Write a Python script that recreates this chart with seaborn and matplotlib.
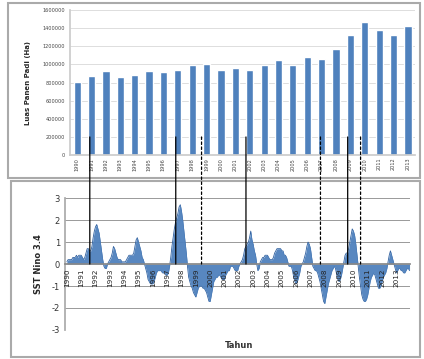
import numpy as np
import pandas as pd
import matplotlib
matplotlib.use("Agg")
import matplotlib.pyplot as plt
import seaborn as sns
from matplotlib.patches import ConnectionPatch, Rectangle
from matplotlib.transforms import blended_transform_factory

# ---- data ----
tahun = list(range(1990, 2014))
luas_panen = [810000, 870000, 930000, 860000, 880000, 930000, 920000, 940000,
              990000, 1010000, 940000, 960000, 940000, 990000, 1050000, 990000,
              1080000, 1060000, 1170000, 1330000, 1470000, 1380000, 1330000, 1420000]

# anomali SST Nino 3.4 bulanan (Jan..Des) per tahun
nino34 = {
    1990: [0.1, 0.2, 0.2, 0.2, 0.2, 0.3, 0.3, 0.3, 0.4, 0.3, 0.4, 0.4],
    1991: [0.4, 0.3, 0.2, 0.3, 0.5, 0.7, 0.7, 0.6, 0.6, 0.8, 1.2, 1.5],
    1992: [1.7, 1.8, 1.6, 1.4, 1.0, 0.6, 0.2, -0.1, -0.2, -0.2, 0.0, 0.1],
    1993: [0.2, 0.3, 0.5, 0.8, 0.7, 0.5, 0.3, 0.2, 0.2, 0.2, 0.1, 0.1],
    1994: [0.1, 0.1, 0.2, 0.3, 0.4, 0.4, 0.4, 0.4, 0.5, 0.8, 1.1, 1.2],
    1995: [1.0, 0.8, 0.6, 0.3, 0.2, 0.0, -0.2, -0.4, -0.7, -0.8, -0.9, -0.9],
    1996: [-0.9, -0.8, -0.6, -0.4, -0.3, -0.3, -0.3, -0.3, -0.4, -0.4, -0.4, -0.5],
    1997: [-0.5, -0.4, -0.1, 0.3, 0.8, 1.2, 1.6, 1.9, 2.1, 2.3, 2.6, 2.7],
    1998: [2.4, 2.0, 1.5, 1.0, 0.5, -0.1, -0.6, -0.8, -1.0, -1.1, -1.3, -1.4],
    1999: [-1.5, -1.3, -1.1, -1.0, -1.0, -1.0, -1.1, -1.1, -1.2, -1.3, -1.5, -1.7],
    2000: [-1.7, -1.4, -1.1, -0.8, -0.7, -0.6, -0.6, -0.5, -0.5, -0.6, -0.7, -0.7],
    2001: [-0.7, -0.5, -0.4, -0.3, -0.3, -0.1, -0.1, -0.1, -0.2, -0.3, -0.3, -0.3],
    2002: [-0.1, 0.0, 0.1, 0.2, 0.4, 0.7, 0.8, 0.9, 1.0, 1.2, 1.5, 1.1],
    2003: [0.9, 0.6, 0.4, 0.0, -0.3, -0.2, 0.1, 0.2, 0.3, 0.3, 0.4, 0.4],
    2004: [0.4, 0.3, 0.2, 0.2, 0.2, 0.3, 0.5, 0.6, 0.7, 0.7, 0.7, 0.7],
    2005: [0.6, 0.6, 0.4, 0.4, 0.3, 0.1, -0.1, -0.1, -0.1, -0.3, -0.6, -0.8],
    2006: [-0.9, -0.8, -0.6, -0.4, -0.1, 0.0, 0.1, 0.3, 0.5, 0.8, 1.0, 0.9],
    2007: [0.7, 0.3, -0.1, -0.2, -0.3, -0.3, -0.4, -0.6, -0.8, -1.1, -1.4, -1.7],
    2008: [-1.8, -1.5, -1.2, -0.9, -0.7, -0.5, -0.3, -0.2, -0.1, -0.2, -0.5, -0.7],
    2009: [-0.8, -0.7, -0.5, -0.2, 0.1, 0.4, 0.5, 0.5, 0.7, 1.0, 1.3, 1.6],
    2010: [1.5, 1.3, 0.9, 0.4, -0.1, -0.6, -1.0, -1.4, -1.6, -1.7, -1.7, -1.6],
    2011: [-1.4, -1.1, -0.8, -0.6, -0.5, -0.4, -0.5, -0.7, -0.9, -1.1, -1.1, -1.0],
    2012: [-0.8, -0.6, -0.5, -0.4, -0.2, 0.1, 0.4, 0.6, 0.4, 0.2, 0.0, -0.2],
    2013: [-0.4, -0.3, -0.2, -0.2, -0.3, -0.3, -0.4, -0.4, -0.3, -0.2, -0.2, -0.3],
}

# garis kejadian (waktu dalam tahun desimal)
el_nino = [1991.6, 1997.6, 2002.5, 2009.6]
la_nina = [1999.4, 2007.7, 2010.5]

# ---- dataframe ----
df_padi = pd.DataFrame({"Tahun": [str(t) for t in tahun], "Luas": luas_panen})
rows = []
for th, vals in nino34.items():
    for m, v in enumerate(vals):
        rows.append((th + m / 12.0, v))
df_sst = pd.DataFrame(rows, columns=["t", "sst"])

sns.set_theme(style="white")
plt.rcParams["font.family"] = ["DejaVu Sans"]

fig = plt.figure(figsize=(4.24, 3.59), dpi=100)

# bingkai chart ala Excel
for rect in [(0.02, 0.505, 0.97, 0.487), (0.025, 0.005, 0.965, 0.49)]:
    fig.patches.append(Rectangle(rect[:2], rect[2], rect[3], transform=fig.transFigure,
                                 fill=False, edgecolor="#aaaaaa", linewidth=1.5, zorder=0))

# ---- panel atas: luas panen ----
ax1 = fig.add_axes([0.165, 0.568, 0.814, 0.404])
sns.barplot(data=df_padi, x="Tahun", y="Luas", color="#4f81bd", width=0.5,
            saturation=1, ax=ax1)
ax1.set_ylim(0, 1600000)
ax1.set_yticks(range(0, 1600001, 200000))
ax1.set_yticklabels([str(v) for v in range(0, 1600001, 200000)], fontsize=3.6, color="#444444")
ax1.tick_params(axis="x", labelrotation=90, labelsize=3.6, labelcolor="#444444", pad=2)
ax1.tick_params(length=0)
ax1.yaxis.grid(True, color="#d8d8d8", linewidth=0.6)
ax1.set_axisbelow(True)
for s in ["top", "right"]:
    ax1.spines[s].set_visible(False)
ax1.spines["left"].set_color("#cccccc")
ax1.spines["bottom"].set_color("#cccccc")
ax1.set_xlabel("")
ax1.set_ylabel("Luas Panen Padi (Ha)", fontsize=5, fontweight="bold", labelpad=8)

# ---- panel bawah: SST Nino 3.4 ----
ax2 = fig.add_axes([0.153, 0.081, 0.814, 0.367])
yt = list(range(-3, 4))
for v in yt:
    if v != 0:
        ax2.axhline(v, color="#999999", linewidth=0.7, zorder=0)
sns.lineplot(data=df_sst, x="t", y="sst", color="#2f5f9e", linewidth=0.6, ax=ax2, zorder=1)
ax2.fill_between(df_sst["t"], df_sst["sst"], 0, color="#4f81bd", alpha=0.95,
                 linewidth=0, zorder=1)
# sumbu x memotong di nol (atur dulu, sebelum label tick)
ax2.spines["bottom"].set_position(("data", 0))
ax2.spines["bottom"].set_color("#888888")
ax2.spines["left"].set_color("#aaaaaa")
for s in ["top", "right"]:
    ax2.spines[s].set_visible(False)
ax2.set_xlim(1989.86, 2013.95)
ax2.set_ylim(-3, 3)
ax2.set_yticks(yt)
ax2.set_yticklabels([str(v) for v in yt], fontsize=6, color="#333333")
ax2.set_xticks(tahun)
ax2.set_xticklabels([str(t) for t in tahun])
ax2.tick_params(axis="x", length=2, pad=1, color="#888888", labelrotation=90,
                labelsize=5.2, labelcolor="#222222")
ax2.tick_params(axis="y", length=0)
ax2.set_axisbelow(False)
ax2.set_xlabel("")
ax2.set_ylabel("SST Nino 3.4", fontsize=6, fontweight="bold", labelpad=6)
fig.text(0.565, 0.03, "Tahun", fontsize=6, fontweight="bold", ha="center", color="#333333")

# garis penghubung kedua panel
# posisi x di panel atas dihitung lewat sumbu waktu panel bawah
top_tr = blended_transform_factory(ax2.transData, ax1.transData)
for x in el_nino + la_nina:
    style = "-" if x in el_nino else (0, (2, 2))
    con = ConnectionPatch(xyA=(x, 200000), coordsA=top_tr, xyB=(x, 0), coordsB=ax2.transData,
                          color="black", linewidth=0.9, linestyle=style, zorder=10)
    fig.add_artist(con)

fig.savefig("out.png", dpi=100)
